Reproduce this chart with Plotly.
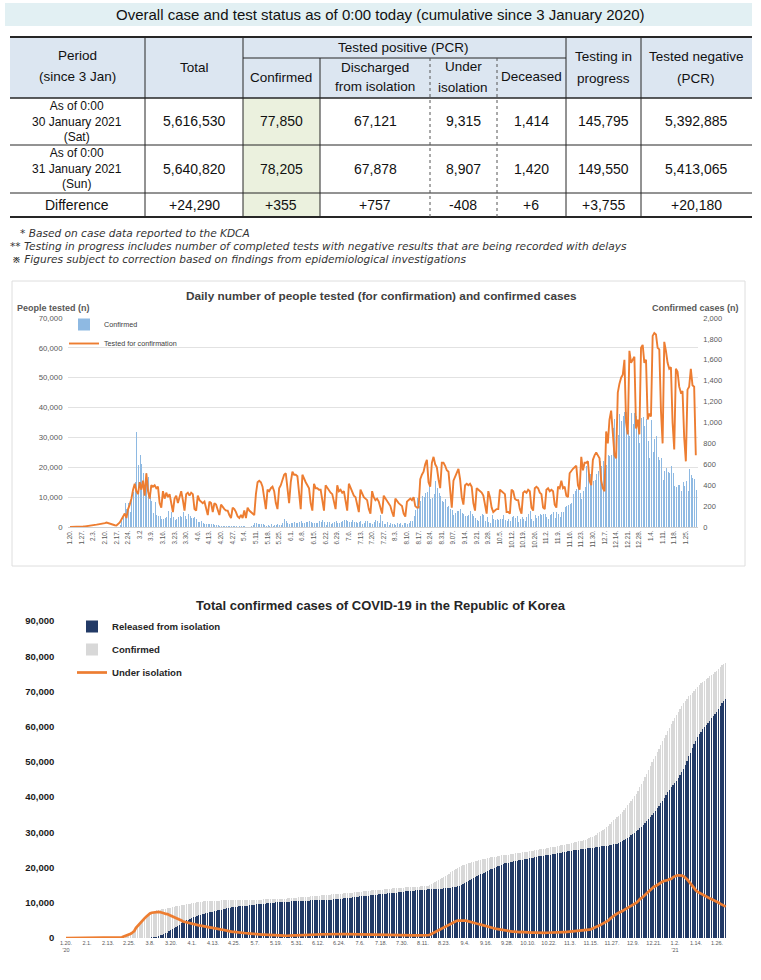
import pandas as pd
import numpy as np
import plotly.graph_objects as go

# ---------------- TABLE DATA ----------------
table_title = "Overall case and test status as of 0:00 today (cumulative since 3 January 2020)"
row_labels = [["As of 0:00", "30 January 2021", "(Sat)"], ["As of 0:00", "31 January 2021", "(Sun)"]]
row_total = ["5,616,530", "5,640,820", "+24,290"]
row_confirmed = ["77,850", "78,205", "+355"]
row_discharged = ["67,121", "67,878", "+757"]
row_isolation = ["9,315", "8,907", "-408"]
row_deceased = ["1,414", "1,420", "+6"]
row_testing = ["145,795", "149,550", "+3,755"]
row_negative = ["5,392,885", "5,413,065", "+20,180"]
notes = ["* Based on case data reported to the KDCA",
         "** Testing in progress includes number of completed tests with negative results that are being recorded with delays",
         "\u203b Figures subject to correction based on findings from epidemiological investigations"]

# ---------------- DAILY CONFIRMED (by month) ----------------
conf_2020_01 = [1,0,0,0,1,0,1,1,0,0,3,4]
conf_2020_02 = [1,3,0,1,3,4,1,0,3,0,1,0,0,0,0,1,1,1,20,53,100,229,169,231,144,284,334,427,909]
conf_2020_03 = [595,686,600,516,438,518,483,367,248,131,242,114,110,107,76,74,84,93,152,87,147,98,64,76,100,104,91,146,105,78,125]
conf_2020_04 = [101,89,86,94,81,47,47,53,39,27,30,32,25,27,27,22,22,18,8,13,9,11,8,6,10,10,10,14,9,4]
conf_2020_05 = [9,6,13,8,3,2,4,12,18,34,35,27,26,29,27,19,13,15,13,32,12,20,23,25,16,19,40,79,58,39,27]
conf_2020_06 = [35,38,49,39,39,51,57,38,38,50,45,56,49,37,34,37,43,59,49,67,48,17,46,51,28,39,51,62,42,43]
conf_2020_07 = [51,54,63,63,61,48,44,63,50,45,35,44,62,33,39,61,60,39,34,26,45,63,59,41,113,58,25,28,48,18,36]
conf_2020_08 = [31,30,23,34,33,43,20,43,36,28,34,54,56,103,166,279,197,246,297,288,324,332,397,266,280,320,441,371,323,299,248]
conf_2020_09 = [235,267,195,198,168,167,119,136,156,155,176,136,121,109,106,113,153,126,110,82,70,61,110,125,114,61,95,50,38,113]
conf_2020_10 = [77,63,75,64,73,75,114,69,54,72,58,97,102,84,110,47,73,91,76,58,91,121,155,77,61,119,88,103,125,114,127]
conf_2020_11 = [124,97,75,118,125,145,89,143,126,100,146,143,191,205,208,223,230,313,343,363,386,330,271,349,382,583,569,504,450,438]
conf_2020_12 = [451,511,540,629,583,631,615,594,686,682,689,950,1030,718,880,1078,1014,1064,1097,1097,926,869,1092,985,1090,1060,970,808,1045,1050,967]
conf_2021_01 = [1029,824,657,1020,715,840,869,674,641,665,451,537,562,524,513,580,520,389,386,404,400,346,431,392,437,349,559,497,469,458,355]

# ---------------- DAILY TESTED FOR CONFIRMATION ----------------
test_2020_01 = [30,20,30,40,50,60,80,120,150,200,250,350]
test_2020_02 = [400,500,450,600,800,900,1000,900,1100,1300,1500,1300,1000,900,700,600,500,900,1500,2500,3500,4500,3000,6000,7500,9500,12500,14500,12000]
test_2020_03 = [11000,15000,12500,15500,10500,18000,12000,9500,14000,13500,14000,13000,13500,8000,6500,12000,9500,11500,10000,11000,8500,5000,9500,10500,8000,10500,12000,9000,5500,11000,11500]
test_2020_04 = [10500,11500,11000,6000,5500,10500,9000,8500,8000,8500,6000,4000,8500,8000,5000,8000,7500,5500,4000,7500,6500,6000,5500,5500,4000,3000,6500,6000,5000,3500]
test_2020_05 = [3000,4000,3000,5500,3000,6500,5500,5000,4500,4000,11000,15000,15500,15000,13500,9000,6000,12500,12000,13000,13500,12000,8000,6000,13000,14000,16000,17500,18000,13000,8000]
test_2020_06 = [15000,18500,17500,17500,17000,11000,6000,17500,16000,15000,14000,13000,8000,5500,14500,13000,13000,12500,12500,8000,5500,14000,13000,12500,11500,11000,8500,6000,14000,12000]
test_2020_07 = [12500,11500,12000,8000,5500,14500,13000,12000,10500,10000,7000,5000,12500,11000,10000,9500,9000,6000,4500,12000,10000,9000,9500,8500,6500,4500,10500,9500,8500,8000,7000]
test_2020_08 = [5000,3500,9500,8500,8000,7500,7000,4500,3500,8500,9000,9500,9000,10000,7000,6500,6500,16000,17500,18500,21000,22500,15000,13500,21500,23500,21000,20000,16000,13000,21500]
test_2020_09 = [21500,20500,19000,18500,11000,6500,15500,17000,18000,19500,16000,10000,7500,14000,14500,14000,14500,13500,8000,5500,13000,12500,12000,11500,10500,7000,4500,12000,10000,6500]
test_2020_10 = [5000,5500,6000,6000,12500,12000,11500,11000,5000,5000,4500,12500,12000,9500,9000,9000,6000,4500,11500,12000,11500,12500,12000,6500,5500,13000,13500,13000,11500,11000,6500]
test_2020_11 = [6000,12500,13000,12000,12500,12000,7500,6500,13500,13000,15500,13000,13500,10500,10000,18000,19000,19500,20000,20500,14000,12500,23500,19000,21500,21500,22000,15500,14000,22500]
test_2020_12 = [24000,25000,24000,23000,15500,13000,12000,32000,28000,36000,39000,32000,24000,23000,45000,48000,50000,51000,56000,35000,31000,59000,55000,56000,57000,33000,36000,31000,60000,61000,55000]
test_2021_01 = [56000,36000,38000,37000,64000,65000,64500,60000,59500,39000,28000,62000,59000,55000,53000,53500,35000,26000,53000,52000,47000,45000,45500,30000,22000,46000,47000,53000,47500,47000,24000]

# ---------------- CUMULATIVE RELEASED FROM ISOLATION ----------------
rel_2020_01 = [0,0,0,0,0,0,0,0,0,0,0,0]
rel_2020_02 = [0,0,0,0,1,2,2,2,3,4,4,7,7,7,9,9,10,10,12,16,16,16,18,18,22,22,22,24,27]
rel_2020_03 = [30,30,34,41,88,108,118,130,166,247,288,333,510,714,834,1137,1407,1540,1947,2233,2612,2909,3166,3507,3730,4144,4528,4811,5033,5228,5408]
rel_2020_04 = [5567,5828,6021,6325,6463,6598,6694,6776,6973,7117,7243,7368,7447,7534,7757,7829,7937,8042,8114,8277,8411,8501,8635,8717,8764,8854,8922,8982,9059,9072]
rel_2020_05 = [9123,9183,9218,9283,9333,9419,9484,9568,9610,9632,9670,9695,9762,9821,9888,9904,9938,10066,10135,10162,10194,10213,10226,10275,10295,10340,10363,10398,10405,10422,10446]
rel_2020_06 = [10467,10506,10531,10552,10564,10589,10611,10654,10669,10689,10718,10729,10760,10774,10802,10818,10856,10881,10908,10930,10950,10970,11009,11041,11078,11172,11237,11317,11364,11429]
rel_2020_07 = [11484,11537,11613,11684,11722,11811,11848,11914,11970,12019,12065,12144,12182,12204,12282,12348,12396,12466,12515,12559,12610,12655,12698,12741,12812,12853,12904,12959,13007,13132,13183]
rel_2020_08 = [13233,13280,13343,13374,13393,13450,13501,13543,13611,13642,13669,13711,13760,13800,13817,13827,13863,13901,13917,13936,13978,14006,14063,14121,14174,14219,14285,14362,14461,14573,14714]
rel_2020_09 = [14898,15063,15274,15561,15829,16146,16470,16773,17023,17261,17514,17758,18036,18266,18525,18771,19082,19299,19495,19732,19970,20158,20363,20510,20780,20947,21154,21330,21420,21590]
rel_2020_10 = [21666,21755,21908,22004,22063,22104,22213,22314,22459,22555,22650,22733,22854,22973,23072,23147,23225,23282,23359,23461,23513,23588,23694,23793,23868,23926,23994,24066,24166,24276,24395]
rel_2020_11 = [24467,24560,24659,24758,24848,24910,24970,25052,25140,25201,25276,25352,25442,25517,25578,25620,25692,25787,25863,25950,26035,26098,26125,26233,26263,26325,26446,26566,26700,26825]
rel_2020_12 = [27070,27340,27600,27890,28200,28470,28800,29180,29530,29900,30320,30770,31180,31640,32150,32620,33150,33690,34290,34850,35480,36130,36830,37510,38250,38990,39750,40520,41330,42120,42953]
rel_2021_01 = [43516,44015,44502,45453,46142,47062,48112,49167,50292,51538,52664,53886,55023,56027,56930,57784,58589,59265,59936,60521,61104,61736,62353,62936,63661,64199,65040,65829,66585,67328,67878]

# ---------------- UNDER ISOLATION ----------------
iso_2020_01 = [1,1,1,1,2,2,3,4,4,4,7,11]
iso_2020_02 = [12,15,15,16,18,21,22,22,24,23,24,21,21,21,19,20,20,21,39,87,186,415,578,807,945,1227,1560,1982,2887]
iso_2020_03 = [3479,4160,4750,5255,5643,6134,6605,6954,7165,7212,7407,7470,7402,7300,7253,7024,6832,6789,6527,6325,6085,5884,5684,5410,5281,4966,4665,4523,4398,4275,4216]
iso_2020_04 = [4155,3979,3867,3654,3591,3500,3445,3408,3246,3125,3026,2930,2873,2808,2609,2555,2468,2379,2313,2161,2035,1955,1827,1751,1714,1632,1573,1526,1456,1446]
iso_2020_05 = [1403,1347,1325,1266,1217,1132,1070,998,974,986,983,983,941,910,870,871,850,736,680,685,664,665,673,649,644,616,633,677,728,750,752]
iso_2020_06 = [765,763,787,804,831,857,892,887,907,937,953,997,1015,1038,1044,1064,1068,1102,1123,1168,1196,1193,1199,1218,1208,1153,1139,1121,1116,1094]
iso_2020_07 = [1090,1091,1077,1069,1091,1049,1056,1053,1045,1041,1030,994,1018,1028,989,982,992,960,945,926,919,936,952,949,991,1008,981,954,953,846,830]
iso_2020_08 = [811,794,754,757,770,756,724,724,692,689,695,707,714,777,926,1195,1356,1563,1844,2113,2394,2696,3036,3244,3470,3743,4117,4409,4632,4814,4918]
iso_2020_09 = [4967,5066,5048,4957,4854,4699,4494,4324,4228,4141,4059,3948,3786,3662,3508,3370,3207,3113,3026,2868,2699,2569,2469,2445,2283,2177,2062,1934,1881,1818]
iso_2020_10 = [1817,1791,1711,1676,1688,1719,1724,1689,1598,1572,1534,1547,1527,1491,1497,1468,1462,1495,1492,1448,1485,1528,1573,1547,1533,1594,1613,1642,1666,1668,1675]
iso_2020_11 = [1725,1727,1699,1715,1748,1830,1857,1914,1952,1989,2059,2126,2226,2355,2501,2681,2837,3054,3319,3593,3891,4156,4398,4634,4983,5502,5949,6327,6642,6952]
iso_2020_12 = [7158,7393,7669,8004,8268,8626,8907,9113,9441,9745,10007,10501,11114,11360,11708,12291,12767,13282,13757,14272,14566,14761,15119,15411,15735,16038,16229,16263,16478,16717,16834]
iso_2021_01 = [17300,17600,17750,17800,17800,17700,17500,17100,16600,16000,15300,14600,14000,13500,13100,12800,12500,12200,11900,11700,11500,11200,11000,10800,10500,10300,10000,9700,9400,9100,8907]

# ---------------- TICK LABELS ----------------
ticks_daily = ["1.20.","1.27.","2.3.","2.10.","2.17.","2.24.","3.2","3.9.","3.16.","3.23.","3.30.","4.6.","4.13.","4.20.","4.27.",
               "5.4.","5.11.","5.18.","5.25.","6.1.","6.8.","6.15.","6.22.","6.29.","7.6.","7.13.","7.20.","7.27.","8.3.","8.10.",
               "8.17.","8.24.","8.31.","9.07.","9.14.","9.21.","9.28.","10.5.","10.12.","10.19.","10.26.","11.2.","11.9.","11.16.",
               "11.23.","11.30.","12.7.","12.14.","12.21.","12.28.","1.4.","1.11.","1.18.","1.25."]
ticks_total = ["1.20.<br>'20","2.1.","2.13.","2.25.","3.8.","3.20.","4.1.","4.13.","4.25.","5.7.","5.19.","5.31.","6.12.","6.24.",
               "7.6.","7.18.","7.30.","8.11.","8.23.","9.4.","9.16.","9.28.","10.10.","10.22.","11.3.","11.15.","11.27.","12.9.",
               "12.21.","1.2.<br>'21","1.14.","1.26."]

def join(*parts):
    out = []
    for p in parts:
        out += p
    return out

confirmed_daily = join(conf_2020_01, conf_2020_02, conf_2020_03, conf_2020_04, conf_2020_05, conf_2020_06, conf_2020_07,
                       conf_2020_08, conf_2020_09, conf_2020_10, conf_2020_11, conf_2020_12, conf_2021_01)
tested_daily = join(test_2020_01, test_2020_02, test_2020_03, test_2020_04, test_2020_05, test_2020_06, test_2020_07,
                    test_2020_08, test_2020_09, test_2020_10, test_2020_11, test_2020_12, test_2021_01)
released_cum = join(rel_2020_01, rel_2020_02, rel_2020_03, rel_2020_04, rel_2020_05, rel_2020_06, rel_2020_07,
                    rel_2020_08, rel_2020_09, rel_2020_10, rel_2020_11, rel_2020_12, rel_2021_01)
under_isolation = join(iso_2020_01, iso_2020_02, iso_2020_03, iso_2020_04, iso_2020_05, iso_2020_06, iso_2020_07,
                       iso_2020_08, iso_2020_09, iso_2020_10, iso_2020_11, iso_2020_12, iso_2021_01)
confirmed_cum = [int(v) for v in np.cumsum(confirmed_daily)]

dates = pd.date_range("2020-01-20", "2021-01-31", freq="D")
n = len(dates)
assert len(confirmed_daily) == n and len(tested_daily) == n and len(released_cum) == n and len(under_isolation) == n
idx = list(range(n))
date_text = [d.strftime("%Y-%m-%d") for d in dates]

# ---------------- FIGURE ----------------
W, H = 761, 980
def X(p): return p / W
def Y(p): return 1 - p / H

ORANGE = "#ed7d31"
fig = go.Figure()

# Chart 1 (bars: confirmed, right scale; line: tested, left scale)
fig.add_trace(go.Bar(x=idx, y=confirmed_daily, name="Confirmed", xaxis="x", yaxis="y",
                     marker=dict(color="rgba(141,184,226,0.99)", line=dict(width=0)), width=0.6,
                     customdata=date_text, legend="legend"))
fig.add_trace(go.Scatter(x=idx, y=tested_daily, name="Tested for confirmation", xaxis="x", yaxis="y2",
                         mode="lines", line=dict(color=ORANGE, width=1.9), customdata=date_text, legend="legend"))
# Chart 2
fig.add_trace(go.Bar(x=idx, y=confirmed_cum, name="Confirmed", xaxis="x2", yaxis="y3",
                     marker=dict(color="rgba(216,216,216,0.99)", line=dict(width=0)), width=0.8,
                     legendrank=2, legend="legend2", legendgroup="c"))
fig.add_trace(go.Bar(x=idx, y=released_cum, name="Released from isolation", xaxis="x2", yaxis="y3",
                     marker=dict(color="rgba(31,56,100,0.99)", line=dict(width=0)), width=0.7,
                     legendrank=1, legend="legend2", legendgroup="r"))
fig.add_trace(go.Scatter(x=idx, y=under_isolation, name="Under isolation", xaxis="x2", yaxis="y3",
                         mode="lines", line=dict(color=ORANGE, width=2.7), legendrank=3, legend="legend2",
                         legendgroup="u"))

shapes = []
annos = []

def rect(x0, y0, x1, y1, fill=None, line=None, lw=0):
    shapes.append(dict(type="rect", xref="paper", yref="paper", x0=X(x0), x1=X(x1), y0=Y(y1), y1=Y(y0),
                       fillcolor=fill if fill else "rgba(0,0,0,0)",
                       line=dict(color=line if line else "rgba(0,0,0,0)", width=lw), layer="below"))

def hline(x0, x1, y, w=1, color="#262626", dash="solid"):
    shapes.append(dict(type="line", xref="paper", yref="paper", x0=X(x0), x1=X(x1), y0=Y(y), y1=Y(y),
                       line=dict(color=color, width=w, dash=dash)))

def vline(x, y0, y1, w=1, color="#262626", dash="solid"):
    shapes.append(dict(type="line", xref="paper", yref="paper", x0=X(x), x1=X(x), y0=Y(y0), y1=Y(y1),
                       line=dict(color=color, width=w, dash=dash)))

def text(x, y, s, size=13.5, color="#111111", weight="normal", xanchor="center", family="Liberation Sans", style="normal"):
    annos.append(dict(xref="paper", yref="paper", x=X(x), y=Y(y), text=s, showarrow=False,
                      xanchor=xanchor, yanchor="middle",
                      font=dict(size=size, color=color, family=family, weight=weight, style=style)))

# title bar
rect(5, 3, 752, 26, fill="#e2f0f3")
text(380, 15, table_title, size=15)

# table backgrounds
rect(10, 37, 752, 98, fill="#dce6f1")
rect(243, 98, 320, 217, fill="#ebf1de")

# table lines
hline(10, 752, 37, w=2)
hline(243, 566, 58, w=1)
hline(10, 752, 98, w=1.5)
hline(10, 752, 145, w=1)
hline(10, 752, 193, w=1)
hline(10, 752, 217, w=2.2)
for xv in [145, 243, 566, 641]:
    vline(xv, 37, 217)
vline(320, 58, 217)
vline(430, 58, 217, color="#555555", dash="dot")
vline(497, 58, 217, color="#555555", dash="dot")

cols = [77, 194, 281, 375, 463, 531, 603, 696]
text(cols[0], 55, "Period"); text(cols[0], 77, "(since 3 Jan)")
text(cols[1], 67, "Total")
text(404, 47, "Tested positive (PCR)")
text(cols[2], 78, "Confirmed")
text(cols[3], 68, "Discharged"); text(cols[3], 87, "from isolation")
text(cols[4], 66, "Under"); text(cols[4], 88, "isolation")
text(cols[5], 77, "Deceased")
text(cols[6], 56, "Testing in"); text(cols[6], 79, "progress")
text(cols[7], 56, "Tested negative"); text(cols[7], 79, "(PCR)")

row_y = [121, 169, 205]
for r in range(2):
    text(cols[0], row_y[r], "<br>".join(row_labels[r]), size=12)
text(cols[0], row_y[2], "Difference", size=14)
value_cols = [row_total, row_confirmed, row_discharged, row_isolation, row_deceased, row_testing, row_negative]
for ci, vals in enumerate(value_cols):
    for r in range(3):
        text(cols[ci + 1], row_y[r], vals[r], size=14)

# notes
for k, (xx, yy) in enumerate([(18, 233), (8, 246), (10, 259)]):
    text(xx, yy, notes[k], size=10.6, xanchor="left", family="DejaVu Sans", style="italic", color="#333333")

# chart 1 frame and titles
rect(12, 281, 745, 566, line="#dedede", lw=1)
text(381, 296, "Daily number of people tested (for confirmation) and confirmed cases", size=11.8, weight="bold", color="#404040")
text(15, 308, "People tested (n)", size=9, xanchor="left", color="#595959", weight="bold")
text(741, 308, "Confirmed cases (n)", size=9, xanchor="right", color="#595959", weight="bold")

# chart 2 title
text(381, 605, "Total confirmed cases of COVID-19 in the Republic of Korea", size=13, weight="bold", color="#262626")

fig.update_layout(
    width=W, height=H, margin=dict(l=0, r=0, t=0, b=0, pad=0, autoexpand=False),
    paper_bgcolor="white", plot_bgcolor="rgba(0,0,0,0)",
    barmode="overlay", bargap=0,
    font=dict(family="Liberation Sans", color="#404040"),
    shapes=shapes, annotations=annos,
    xaxis=dict(domain=[X(67.5), X(698.3)], range=[-1.5, 378.5], anchor="y",
               tickmode="array", tickvals=[7 * i for i in range(len(ticks_daily))], ticktext=ticks_daily,
               tickangle=-90, tickfont=dict(size=6.3, color="#595959"), showgrid=False, zeroline=False,
               showline=True, linecolor="#d0d0d0", linewidth=1, ticks=""),
    yaxis=dict(domain=[Y(527), Y(318)], range=[0, 2000], dtick=200, side="right", anchor="x",
               tickformat=",", tickfont=dict(size=7.5, color="#595959"), showgrid=False, zeroline=False,
               ticklabelstandoff=4),
    yaxis2=dict(range=[0, 70000], dtick=10000, side="left", overlaying="y", anchor="x",
                tickformat=",", tickfont=dict(size=7.8, color="#595959"), showgrid=True, gridcolor="#e2e2e2",
                gridwidth=1, zeroline=False, ticklabelstandoff=4),
    xaxis2=dict(domain=[X(64.25), X(727.5)], range=[-1, 378], anchor="y3",
                tickmode="array", tickvals=[12 * i for i in range(len(ticks_total))], ticktext=ticks_total,
                tickangle=0, tickfont=dict(size=5.5, color="#595959"), showgrid=False, zeroline=False,
                showline=False, ticks=""),
    yaxis3=dict(domain=[Y(938), Y(621)], range=[0, 90000], dtick=10000, anchor="x2",
                tickformat=",", tickfont=dict(size=9.5, color="#1a1a1a", weight="bold"), showgrid=False,
                zeroline=False, ticklabelstandoff=9),
    legend=dict(x=X(64), y=Y(310), xanchor="left", yanchor="top", bgcolor="rgba(0,0,0,0)",
                font=dict(size=7.2, color="#404040"), traceorder="normal", tracegroupgap=0),
    legend2=dict(x=X(72), y=Y(612), xanchor="left", yanchor="top", bgcolor="rgba(0,0,0,0)",
                 font=dict(size=9.6, color="#262626", weight="bold"), tracegroupgap=4),
    showlegend=True,
)

fig.write_html("out.html", include_plotlyjs=True, full_html=True,
               config={"displayModeBar": False},
               post_script="document.body.style.margin='0';document.body.style.overflow='hidden';")
